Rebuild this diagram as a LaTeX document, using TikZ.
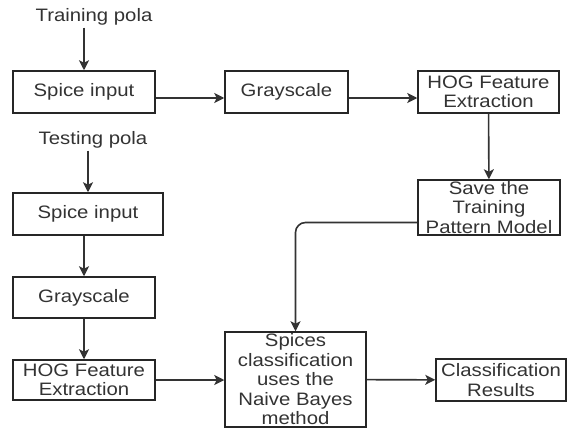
\documentclass[tikz,border=0pt]{standalone}
\usepackage{fontspec}
\setmainfont{Liberation Sans}[FakeStretch=1.13]
\usepackage{tikz}
\usetikzlibrary{positioning,arrows.meta}

\begin{document}
\begin{tikzpicture}[x=1pt, y=-1pt, font=\fontsize{18}{19.5}\selectfont, >={Stealth[length=10pt, width=10pt, inset=2.5pt]},
  box/.style={draw=black!85, line width=1.5pt, align=center, inner sep=0pt, text=black!80},
  lbl/.style={inner sep=2pt, text=black!80},
  line/.style={->, line width=1.6pt, draw=black!80}]
\useasboundingbox (0,0) rectangle (567,428);
\node[lbl] (trainlbl) at (94, 17) {Training pola};
\node[box, minimum width=142pt, minimum height=42pt] (spice1) at (84, 92) {Spice input};
\node[box, minimum width=123pt, minimum height=42pt] (gray1) at (286.5, 92) {Grayscale};
\node[box, minimum width=141pt, minimum height=42pt] (hog1) at (488.5, 92) {HOG Feature\\Extraction};
\node[box, minimum width=142pt, minimum height=55pt] (save) at (489, 207.5) {Save the\\Training\\Pattern Model};
\node[lbl] (testlbl) at (93, 140) {Testing pola};
\node[box, minimum width=150pt, minimum height=42pt] (spice2) at (88, 214) {Spice input};
\node[box, minimum width=142pt, minimum height=41pt] (gray2) at (84, 297.5) {Grayscale};
\node[box, minimum width=142pt, minimum height=40pt] (hog2) at (84, 380) {HOG Feature\\Extraction};
\node[box, minimum width=141pt, minimum height=95pt] (nb) at (295.5, 379.5) {Spices\\classification\\uses the\\Naive Bayes\\method};
\node[box, minimum width=130pt, minimum height=42pt] (res) at (501, 380) {Classification\\Results};
\draw[line] (trainlbl.south -| spice1.north) -- (spice1.north);
\draw[line] ([yshift=-6pt]spice1.east) -- ([yshift=-6pt]gray1.west);
\draw[line] ([yshift=-6pt]gray1.east) -- ([yshift=-6pt]hog1.west);
\draw[line] (hog1) -- (save);
\draw[line, rounded corners=10pt] ([yshift=-15pt]save.west) -| (nb.north);
\draw[line] (testlbl.south -| spice2.north) -- (spice2.north);
\draw[line] (spice2.south -| gray2.north) -- (gray2.north);
\draw[line] (gray2) -- (hog2);
\draw[line] (hog2.east) -- (hog2 -| nb.west);
\draw[line] (nb) -- (res);
\end{tikzpicture}
\end{document}
